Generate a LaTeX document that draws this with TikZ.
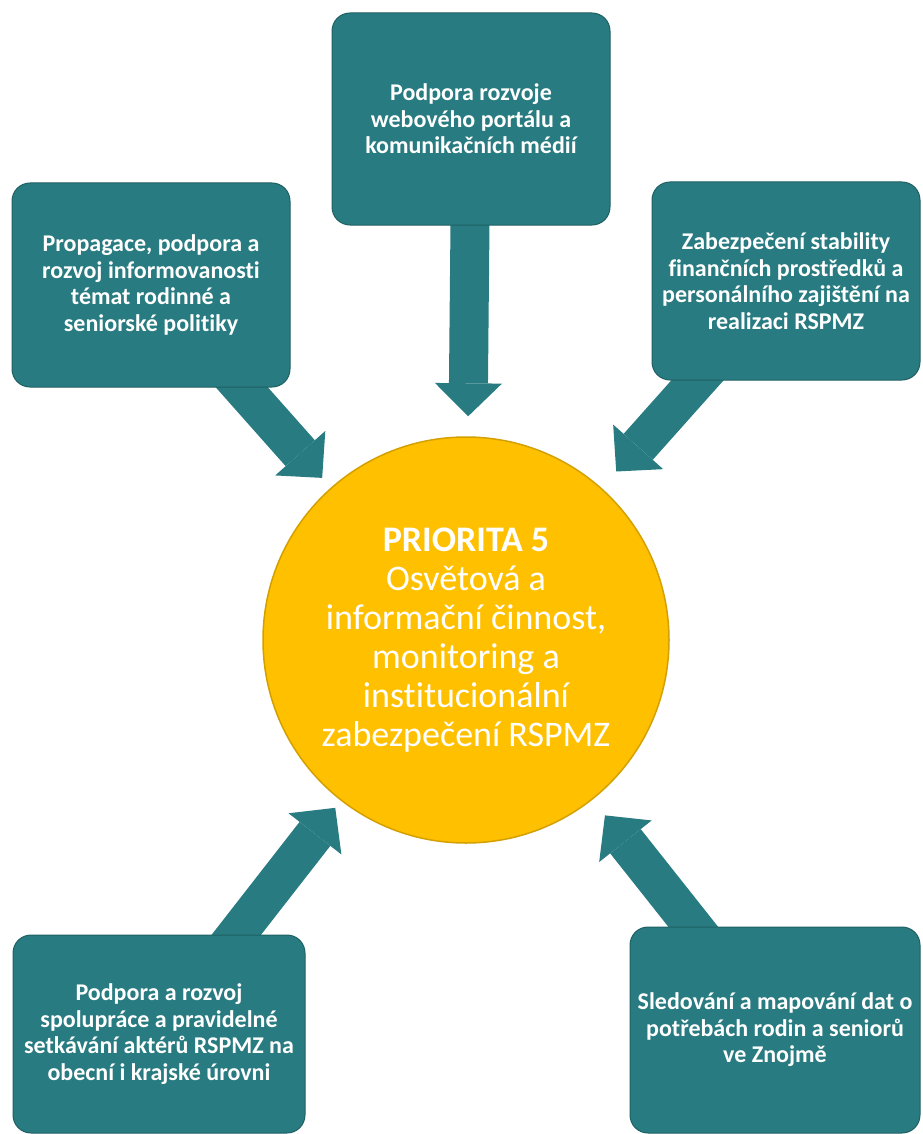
\documentclass[tikz,border=0pt]{standalone}
\usepackage{fontspec}
\setmainfont{Carlito}[Ligatures=NoCommon]
\usetikzlibrary{arrows.meta}

\definecolor{boxteal}{HTML}{287B80}
\definecolor{boxedge}{HTML}{1E6064}
\definecolor{prgold}{HTML}{FFC000}
\definecolor{prrim}{HTML}{D4A000}

\pgfdeclarelayer{back}
\pgfsetlayers{back,main}

\tikzset{
  goal/.style={draw=boxedge, line width=1pt, fill=boxteal, rounded corners=18pt,
    text=white, align=center, inner sep=0pt,
    font=\fontsize{24}{26.5}\selectfont\bfseries},
  link/.style={draw=boxteal, line width=39pt,
    -{Triangle[width=67pt,length=33pt,line width=0pt]}},
  prio/.style={circle, draw=prrim, line width=1.5pt, fill=prgold, text=white,
    align=center, inner sep=0pt, minimum size=406pt,
    font=\fontsize{36}{39}\selectfont}
}

\begin{document}
\begin{tikzpicture}[x=1pt, y=-1pt]
  \useasboundingbox (0,0) rectangle (922,1134);

  % centre
  \node[prio] (prio5) at (466,640)
    {\textbf{PRIORITA 5}\\Osvětová a\\informační činnost,\\monitoring a\\institucionální\\zabezpečení RSPMZ};

  % goals round it
  \node[goal, minimum width=278pt, minimum height=212pt] (web) at (471,119)
    {Podpora rozvoje\\webového portálu a\\komunikačních médií};
  \node[goal, minimum width=278pt, minimum height=204pt] (osveta) at (151,285)
    {Propagace, podpora a\\rozvoj informovanosti\\témat rodinné a\\seniorské politiky};
  \node[goal, minimum width=268pt, minimum height=198pt] (zdroje) at (786,281)
    {Zabezpečení stability\\finančních prostředků a\\personálního zajištění na\\realizaci RSPMZ};
  \node[goal, minimum width=292pt, minimum height=198pt] (spoluprace) at (159,1034)
    {Podpora a rozvoj\\spolupráce a pravidelné\\setkávání aktérů RSPMZ na\\obecní i krajské úrovni};
  \node[goal, minimum width=290pt, minimum height=206pt] (data) at (775,1030)
    {Sledování a mapování dat o\\potřebách rodin a seniorů\\ve Znojmě};

  % arrows behind the boxes
  \begin{pgfonlayer}{back}
    \draw[link, shorten >=20pt] (web.center) -- (prio5);
    \draw[link, shorten >=13pt] (osveta.center) -- (prio5);
    \draw[link, shorten >=22pt] (zdroje.center) -- (prio5);
    \draw[link, shorten >=9pt] (spoluprace.center) -- (prio5);
    \draw[link, shorten >=20pt] (data.center) -- (prio5);
  \end{pgfonlayer}
\end{tikzpicture}
\end{document}
